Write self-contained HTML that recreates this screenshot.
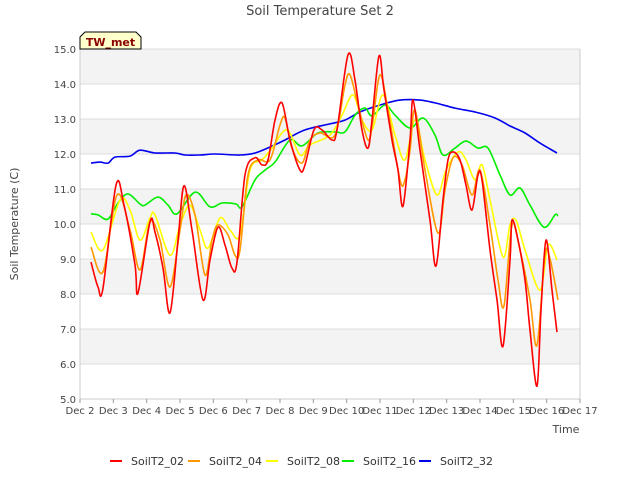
<!DOCTYPE html>
<html><head><meta charset="utf-8"><style>
body{margin:0;background:#fff;font-family:"Liberation Sans","DejaVu Sans",sans-serif}
svg text{font-family:"DejaVu Sans","Liberation Sans",sans-serif}
</style></head><body>
<svg id="c" width="640" height="480" xmlns="http://www.w3.org/2000/svg">
<text x="320" y="15" text-anchor="middle" font-size="13" fill="#444">Soil Temperature Set 2</text>
<g id="grid"></g>
<g id="ticks"></g>
<g id="series"></g>
<g>
<path d="M80,49 L80,37 L85,32 L136,32 L141,37 L141,49 Z" fill="#ffffcc" stroke="#000" stroke-width="1"/>
<text x="110.5" y="46" text-anchor="middle" font-size="11" font-weight="bold" fill="#8b0000">TW_met</text>
</g>
<text transform="translate(18,224) rotate(-90)" text-anchor="middle" font-size="11" fill="#444">Soil Temperature (C)</text>
<text x="566" y="433" text-anchor="middle" font-size="11" fill="#444">Time</text>
<g id="legend"></g>
</svg>
<script>
const xTickLabels=["Dec 2","Dec 3","Dec 4","Dec 5","Dec 6","Dec 7","Dec 8","Dec 9","Dec 10","Dec 11","Dec 12","Dec 13","Dec 14","Dec 15","Dec 16","Dec 17"];
const yTickLabels=["5.0","6.0","7.0","8.0","9.0","10.0","11.0","12.0","13.0","14.0","15.0"];
const seriesNames=["SoilT2_02","SoilT2_04","SoilT2_08","SoilT2_16","SoilT2_32"];
const seriesColors=["#ff0000","#ff9900","#ffff00","#00ee00","#0000ee"];
const redDays=[0.33,0.54,0.69,1.08,1.32,1.65,1.74,2.1,2.25,2.49,2.7,2.94,3.12,3.36,3.69,3.9,4.14,4.35,4.56,4.71,4.95,5.25,5.46,5.64,5.85,6.06,6.3,6.6,6.75,7.02,7.26,7.56,7.71,8.04,8.25,8.46,8.64,8.76,8.97,9.12,9.36,9.54,9.69,9.9,9.99,10.2,10.5,10.68,10.89,11.04,11.19,11.4,11.58,11.76,11.94,12.06,12.3,12.51,12.69,12.9,12.96,13.14,13.35,13.5,13.71,13.83,13.98,14.16,14.31];
const redVals=[8.91,8.2,8.17,11.11,10.54,8.83,8.03,10.06,9.77,8.74,7.46,9.54,11.09,9.83,7.83,8.97,9.91,9.4,8.74,8.91,11.4,11.89,11.69,11.83,12.97,13.46,12.4,11.54,11.69,12.69,12.69,12.4,12.69,14.83,14.11,12.69,12.17,12.97,14.8,13.83,12.4,11.54,10.51,12.4,13.54,12.11,10.11,8.8,10.69,11.83,12.06,11.83,11.11,10.4,11.4,11.26,9.26,7.83,6.51,8.97,10.11,9.54,8.4,6.97,5.37,7.54,9.54,8.11,6.91];
const orangeDays=[0.33,0.69,1.11,1.5,1.8,2.1,2.4,2.7,3.0,3.18,3.45,3.75,3.96,4.14,4.44,4.65,4.8,5.04,5.34,5.7,6.0,6.15,6.36,6.66,6.9,7.2,7.65,7.95,8.1,8.34,8.64,8.79,9.0,9.24,9.6,9.75,9.9,10.05,10.35,10.74,10.95,11.19,11.46,11.76,12.0,12.3,12.54,12.72,12.96,13.2,13.5,13.71,13.95,14.1,14.34];
const orangeVals=[9.34,8.63,10.83,9.83,8.69,10.06,9.54,8.2,9.83,10.83,10.26,8.54,9.54,9.97,9.69,9.11,9.26,11.4,11.83,11.83,12.83,13.03,12.17,11.74,12.4,12.6,12.54,13.97,14.26,13.4,12.4,12.97,14.26,13.26,11.26,11.26,12.11,13.26,11.54,9.74,10.97,11.89,11.69,10.83,11.54,9.97,8.4,7.66,9.97,9.26,7.83,6.54,9.11,9.0,7.83];
const yellowDays=[0.33,0.69,1.2,1.5,1.8,2.1,2.25,2.7,3.0,3.3,3.6,3.84,4.2,4.5,4.8,5.1,5.46,5.76,6.21,6.6,6.9,7.5,7.86,8.19,8.46,8.76,9.09,9.45,9.75,10.05,10.35,10.71,10.98,11.34,11.58,11.85,12.06,12.3,12.69,12.9,13.08,13.35,13.8,14.04,14.31];
const yellowVals=[9.77,9.26,10.69,10.4,9.54,10.17,10.26,9.11,9.97,10.54,9.83,9.31,10.17,9.83,9.69,11.54,11.83,12.17,12.69,11.97,12.26,12.54,13.11,13.69,12.97,12.69,13.69,12.54,11.83,12.97,11.83,10.83,11.54,12.06,11.83,11.26,11.69,10.69,9.06,9.97,10.11,9.26,8.11,9.4,8.97];
const greenDays=[0.33,0.54,0.84,1.14,1.44,1.8,1.95,2.34,2.64,2.91,3.45,3.9,4.26,4.68,4.86,5.25,5.55,5.85,6.3,6.66,7.14,7.65,7.95,8.25,8.55,8.76,9.15,9.45,9.9,10.29,10.65,10.89,11.25,11.58,11.94,12.24,12.6,12.9,13.2,13.5,13.92,14.25,14.34];
const greenVals=[10.29,10.26,10.14,10.6,10.86,10.57,10.54,10.77,10.54,10.29,10.91,10.49,10.6,10.57,10.49,11.26,11.54,11.77,12.4,12.23,12.6,12.63,12.63,13.11,13.31,13.09,13.4,13.11,12.74,13.03,12.54,11.97,12.17,12.37,12.17,12.17,11.4,10.83,11.03,10.54,9.91,10.26,10.23];
const blueDays=[0.33,0.6,0.84,1.05,1.5,1.8,2.25,2.85,3.15,3.6,4.05,4.8,5.25,5.7,6.15,6.75,7.5,7.95,8.4,9.0,9.6,10.2,10.65,11.25,11.85,12.45,12.9,13.35,13.8,14.31];
const blueVals=[11.74,11.77,11.74,11.91,11.94,12.11,12.03,12.03,11.97,11.97,12.0,11.97,12.03,12.2,12.4,12.69,12.86,12.97,13.2,13.4,13.54,13.54,13.46,13.31,13.2,13.03,12.8,12.6,12.31,12.03];

const NS="http://www.w3.org/2000/svg";
const L=80,R=580,T=49,B=399,X0=0,X1=15,Y0=5,Y1=15;
const xs=d=>L+(d-X0)/(X1-X0)*(R-L);
const ys=v=>B-(v-Y0)/(Y1-Y0)*(B-T);
function mk(tag,attrs,parent){const e=document.createElementNS(NS,tag);for(const k in attrs)e.setAttribute(k,attrs[k]);parent.appendChild(e);return e;}
const grid=document.getElementById('grid'),ticks=document.getElementById('ticks');
const bg=mk('rect',{x:L,y:T,width:R-L,height:B-T,fill:'#fff'},grid);


for(let v=Y0;v<Y1;v++){if(v%2===0){const b=mk('rect',{x:L,y:ys(v+1),width:R-L,height:ys(v)-ys(v+1),fill:'#f3f3f3'},grid);

}}
yTickLabels.forEach((t,i)=>{const v=Y0+i;const g=mk('line',{x1:L,x2:R,y1:ys(v),y2:ys(v),stroke:'#dcdcdc','stroke-width':1},grid);


const tx=mk('text',{x:L-4,y:ys(v)+4,'text-anchor':'end','font-size':10,fill:'#444'},ticks);tx.textContent=t;

});
xTickLabels.forEach((t,i)=>{const x=xs(i);const ln=mk('line',{x1:x,x2:x,y1:B,y2:B+4,stroke:'#999'},ticks);


const tx=mk('text',{x:x,y:B+15,'text-anchor':'middle','font-size':10,fill:'#444'},ticks);tx.textContent=t;

});
const ax=mk('path',{d:`M${L},${T}V${B}H${R}V${T}`,fill:'none',stroke:'#ccc'},grid);


function path(days,vals){const p=days.map((d,i)=>[xs(d),ys(vals[i])]);let s=`M${p[0][0]},${p[0][1]}`;
for(let i=0;i<p.length-1;i++){const p0=p[Math.max(0,i-1)],p1=p[i],p2=p[i+1],p3=p[Math.min(p.length-1,i+2)];
const c1=[p1[0]+(p2[0]-p0[0])/6,p1[1]+(p2[1]-p0[1])/6],c2=[p2[0]-(p3[0]-p1[0])/6,p2[1]-(p3[1]-p1[1])/6];
s+=`C${c1[0].toFixed(1)},${c1[1].toFixed(1)} ${c2[0].toFixed(1)},${c2[1].toFixed(1)} ${p2[0].toFixed(1)},${p2[1].toFixed(1)}`;}return s;}
const sd=[[redDays,redVals],[orangeDays,orangeVals],[yellowDays,yellowVals],[greenDays,greenVals],[blueDays,blueVals]];
const sg=document.getElementById('series');
[4,3,2,1,0].forEach(i=>{const e=mk('path',{d:path(sd[i][0],sd[i][1]),fill:'none',stroke:seriesColors[i],'stroke-width':1.6},sg);

});
const lg=document.getElementById('legend');const lx=[110,188,266,342,419];
seriesNames.forEach((n,i)=>{const g=mk('g',{},lg);


mk('line',{x1:lx[i],x2:lx[i]+12,y1:461,y2:461,stroke:seriesColors[i],'stroke-width':2},g);
const t=mk('text',{x:lx[i]+21,y:465,'font-size':11,fill:'#333'},g);t.textContent=n;});
</script>
</body></html>
